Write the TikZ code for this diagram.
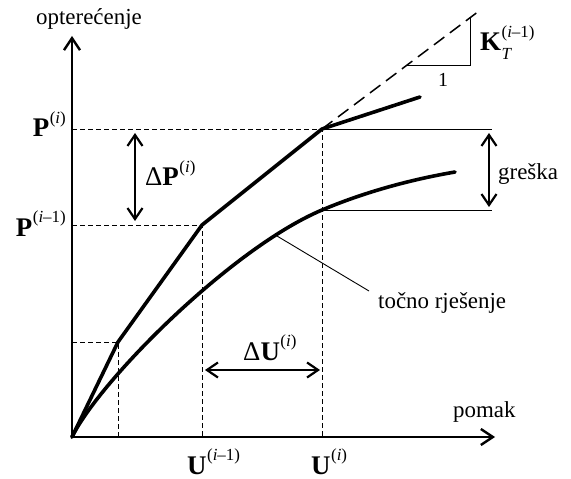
\documentclass[tikz,border=0pt]{standalone}
\usepackage{fontspec}
\setmainfont{Liberation Serif}
\usetikzlibrary{arrows.meta}
\newcommand\supx[1]{\raisebox{0.5em}{\fontsize{17}{17}\selectfont\kern0.5pt #1}}
\newcommand\subx[1]{\raisebox{-0.3em}{\fontsize{17}{17}\selectfont\kern0.5pt #1}}
\newcommand\bigb{\fontsize{27}{30}\selectfont}
\begin{document}
\begin{tikzpicture}[x=1bp,y=-1bp,
  font=\fontsize{23}{27}\selectfont,
  lbl/.style={inner sep=0pt},
  axisline/.style={line width=2.8bp, -{Straight Barb[length=12bp,width=16bp,line width=2.4bp]}},
  dimarrow/.style={line width=2.4bp, {Straight Barb[length=11bp,width=15bp,line width=2.2bp]}-{Straight Barb[length=11bp,width=15bp,line width=2.2bp]}},
  curveline/.style={line width=3.6bp, line join=round, line cap=round},
  helpdash/.style={line width=0.9bp, dash pattern=on 5bp off 3bp},
  tangdash/.style={line width=1.5bp, dash pattern=on 13bp off 7bp},
  thinline/.style={line width=0.9bp}]
\useasboundingbox (0,0) rectangle (571,479);
% coordinates
\coordinate (O) at (72,437);
\coordinate (ytop) at (72,36);
\coordinate (xend) at (495,437);
\coordinate (k1) at (118,342);
\coordinate (k2) at (202,225);
\coordinate (k3) at (322,129);
\coordinate (k4) at (420,97);
\coordinate (t1) at (479,11);
\coordinate (e3) at (322,210);
\coordinate (eend) at (455,172);
\coordinate (lead1) at (277,236);
\coordinate (lead2) at (369,291);
% helper dashed lines
\draw[helpdash] (72,342) -- (k1) -- (118,437);
\draw[helpdash] (72,225) -- (k2) -- (202,437);
\draw[helpdash] (72,129) -- (k3) -- (322,437);
% tangent and triangle
\draw[tangdash] (k3) -- (t1);
\draw[thinline] (407,65) -- (470,65) -- (470,18);
% horizontal lines for error
\draw[thinline] (k3) -- (492,129);
\draw[thinline] (e3) -- (492,210);
% axes
\draw[axisline] (O) -- (ytop);
\draw[axisline] (O) -- (xend);
% iterative polyline
\draw[curveline] (O) -- (k1) -- (k2) -- (k3) -- (k4);
% exact curve
\draw[curveline] (O) .. controls (100,380) and (232,248) .. (e3)
  .. controls (372,189) and (420,178) .. (eend);
% leader
\draw[thinline] (lead1) -- (lead2);
% dimension arrows
\draw[dimarrow] (135,133) -- (135,221);
\draw[dimarrow] (205,370) -- (320,370);
\draw[dimarrow] (489,133) -- (489,207);
% labels
\node[lbl, anchor=base west] (lopt) at (36,25) {optere\'cenje};
\node[lbl, anchor=base west] (lpom) at (453,417) {pomak};
\node[lbl, anchor=base west] (ltoc) at (378,308) {to\v{c}no rje\v{s}enje};
\node[lbl, anchor=base west] (lgre) at (498,180) {gre\v{s}ka};
\node[lbl, anchor=base east] (lPi) at (66,137) {\bigb\textbf{P}\supx{(\textit{i})}};
\node[lbl, anchor=base east] (lPim) at (66,236) {\bigb\textbf{P}\supx{(\textit{i}–1)}};
\node[lbl, anchor=base west] (lUim) at (187,474) {\bigb\textbf{U}\supx{(\textit{i}–1)}};
\node[lbl, anchor=base west] (lUi) at (311,474) {\bigb\textbf{U}\supx{(\textit{i})}};
\node[lbl, anchor=base west] (ldP) at (145,186) {\bigb Δ\textbf{P}\supx{(\textit{i})}};
\node[lbl, anchor=base west] (ldU) at (243,360) {\bigb Δ\textbf{U}\supx{(\textit{i})}};
\node[lbl, anchor=base west] (lK) at (480,51) {\bigb\textbf{K}\rlap{\supx{(\textit{i}–1)}}\subx{\textit{T}}};
\node[lbl] (lone) at (443,80) {\fontsize{20}{20}\selectfont 1};
\end{tikzpicture}
\end{document}
